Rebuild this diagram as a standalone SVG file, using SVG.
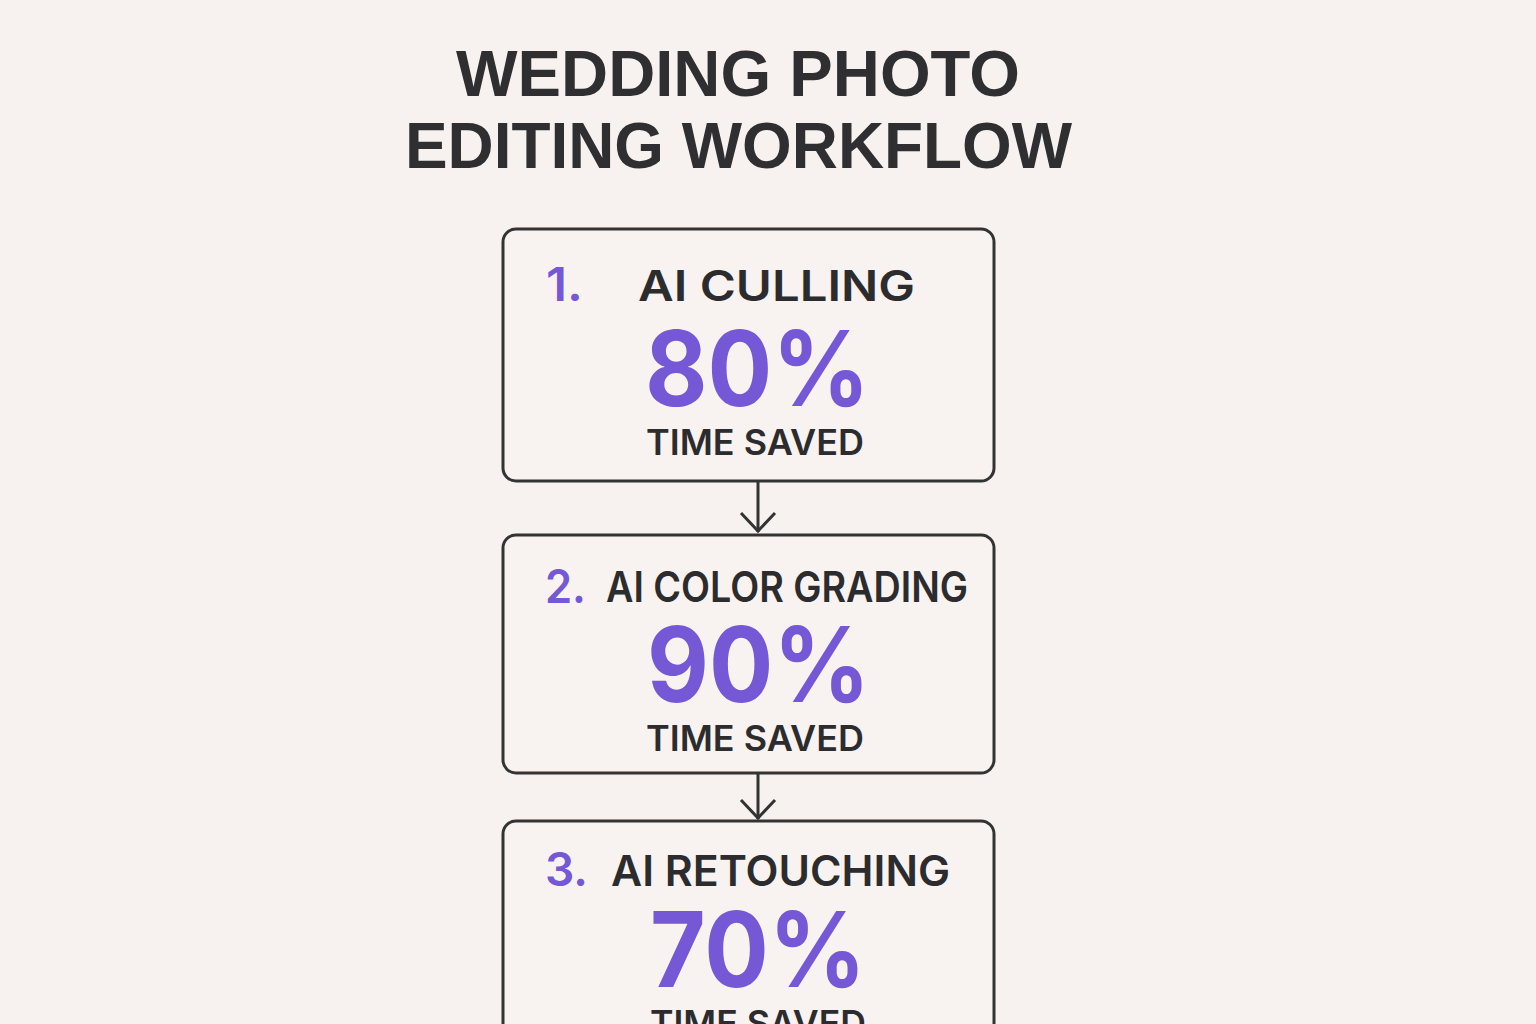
<svg xmlns="http://www.w3.org/2000/svg" width="1536" height="1024" viewBox="0 0 1536 1024">
<style>
.title{font-family:"Liberation Sans",Arial,sans-serif;font-weight:700;font-size:64px;fill:#2f2f31}
.box{fill:#f8f3f0;stroke:#333333;stroke-width:3}
.num{font-family:Inter,"Noto Sans",sans-serif;font-weight:600;font-size:46px;fill:#7558d6}
.head{font-family:Inter,"Noto Sans",sans-serif;font-weight:600;font-size:42px;fill:#2c2c2e}
.pct{font-family:Inter,"Noto Sans",sans-serif;font-weight:700;font-size:104px;fill:#7558d6}
.sub{font-family:Inter,"Noto Sans",sans-serif;font-weight:600;font-size:35px;fill:#2c2c2e}
.conn{fill:none;stroke:#333333;stroke-width:3}
</style>
<rect width="1536" height="1024" fill="#f7f2ef"/>
<g id="title">
<text class="title" x="456" y="96" textLength="564" lengthAdjust="spacingAndGlyphs">WEDDING PHOTO</text>
<text class="title" x="405" y="168" textLength="667" lengthAdjust="spacingAndGlyphs">EDITING WORKFLOW</text>
</g>
<g id="connectors">
<path class="conn" d="M758 481 V532"/>
<path class="conn" d="M741 513 L758 531 L775 513"/>
<path class="conn" d="M758 773 V819"/>
<path class="conn" d="M741 800 L758 818 L775 800"/>
</g>
<g id="node1">
<rect class="box" x="503" y="229" width="491" height="252" rx="13"/>
<text class="num" x="546" y="301" textLength="37" lengthAdjust="spacingAndGlyphs">1.</text>
<text class="head" x="638" y="301" textLength="277" lengthAdjust="spacingAndGlyphs">AI CULLING</text>
<text class="pct" x="645" y="406" textLength="225" lengthAdjust="spacingAndGlyphs">80%</text>
<text class="sub" x="646" y="455" textLength="218" lengthAdjust="spacingAndGlyphs">TIME SAVED</text>
</g>
<g id="node2">
<rect class="box" x="503" y="535" width="491" height="238" rx="13"/>
<text class="num" x="545" y="603" textLength="41" lengthAdjust="spacingAndGlyphs">2.</text>
<text class="head" x="606" y="602" textLength="362" lengthAdjust="spacingAndGlyphs">AI COLOR GRADING</text>
<text class="pct" x="647" y="702" textLength="223" lengthAdjust="spacingAndGlyphs">90%</text>
<text class="sub" x="646" y="751" textLength="218" lengthAdjust="spacingAndGlyphs">TIME SAVED</text>
</g>
<g id="node3">
<rect class="box" x="503" y="821" width="491" height="240" rx="13"/>
<text class="num" x="545" y="886" textLength="43" lengthAdjust="spacingAndGlyphs">3.</text>
<text class="head" x="611" y="886" textLength="339" lengthAdjust="spacingAndGlyphs">AI RETOUCHING</text>
<text class="pct" x="650" y="987" textLength="216" lengthAdjust="spacingAndGlyphs">70%</text>
<text class="sub" x="650" y="1036" textLength="216" lengthAdjust="spacingAndGlyphs">TIME SAVED</text>
</g>
</svg>
